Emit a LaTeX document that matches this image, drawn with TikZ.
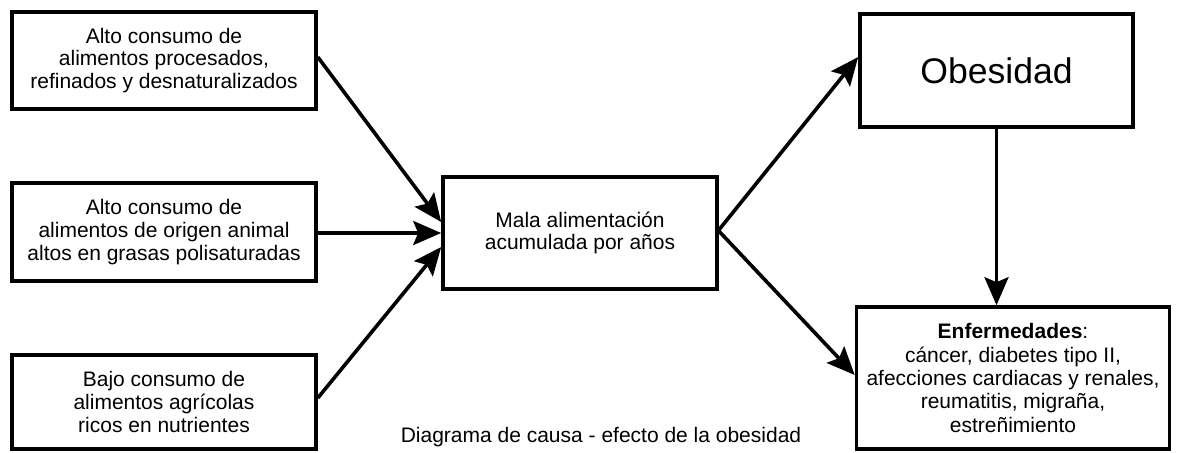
\documentclass[tikz,border=0pt]{standalone}
\usepackage{fontspec}
\setmainfont{Liberation Sans}
\usetikzlibrary{positioning,calc}
\usetikzlibrary{arrows.meta}
\tikzstyle{arrow} = [line width=1.8pt,-{Stealth[length=14pt,width=12pt,inset=2.5pt]}]

\begin{document}
\begin{tikzpicture}[x=0.5pt,y=-0.5pt, causa/.style={rectangle, draw, line width=1.8pt, align=center, minimum width=152pt, minimum height=48pt, inner sep=0pt, font=\fontsize{10.5}{11.4}\selectfont}]

			\useasboundingbox (0,0) rectangle (1180,452);

			% CAUSAS

			\node [causa, minimum height=48.5pt] (procesados) at (164,60.5) {Alto consumo de\\alimentos procesados,\\refinados y desnaturalizados};

			\node [causa, minimum height=49pt] (animal) at (164,232) {Alto consumo de\\alimentos de origen animal\\altos en grasas polisaturadas};

			\node [causa, minimum height=47pt] (agricolas) at (164,402) {Bajo consumo de\\alimentos agrícolas\\ricos en nutrientes};

			% EFECTOS

			\node [causa, minimum width=137pt, minimum height=56pt] (mala) at (580,233) {Mala alimentación\\acumulada por años};

			\node [causa, minimum width=136.5pt, minimum height=56.5pt, font=\fontsize{17.8}{21}\selectfont] (obesidad) at (996.5,70.5) {Obesidad};

			\node [causa, minimum width=156.5pt, minimum height=71pt, font=\fontsize{10.5}{11.7}\selectfont] (enfermedades) at (1013,378) {\textbf{Enfermedades}:\\cáncer, diabetes tipo II,\\afecciones cardiacas y renales,\\reumatitis, migraña,\\estreñimiento};

			\node [font=\fontsize{10.5}{11.4}\selectfont] (titulo) at (601,437) {Diagrama de causa - efecto de la obesidad};

			% FLECHAS

			\draw [arrow] ([yshift=1.75pt]procesados.east) -- ([yshift=5.5pt]mala.west);
			\draw [arrow] (animal.east |- mala.west) -- (mala.west);
			\draw [arrow] ([yshift=2pt]agricolas.east) -- ([yshift=-7pt]mala.west);

			\draw [arrow] ([yshift=1.5pt]mala.east) -- ([yshift=6.75pt]obesidad.west);
			\draw [arrow] ([yshift=1pt]mala.east) -- ([yshift=1.5pt]enfermedades.west);
			\draw [arrow] (obesidad.south) -- (obesidad.south |- enfermedades.north);

		\end{tikzpicture}
\end{document}
